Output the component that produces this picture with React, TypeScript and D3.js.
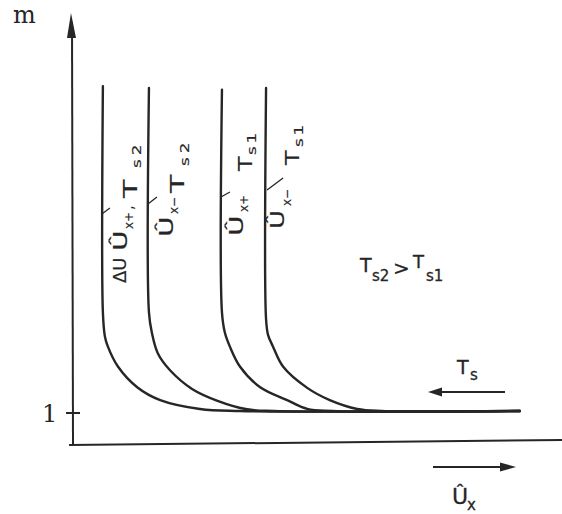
import React from "react";
import * as d3 from "d3";

// Multiplication factor m versus normalised voltage Û_x, four boundary curves
// (points are [Û_x, m])
const curveDUxPlusTs2: [number, number][] = [
  [6.1, 10.55], [6.1, 3.9], [6.5, 3.2], [7.1, 2.9], [9.2, 2.3], [13.1, 1.7],
  [17.8, 1.32], [25.9, 1.06], [34.1, 1.0], [91.2, 1.0],
];
const curveUxMinusTs2: [number, number][] = [
  [15.5, 10.5], [15.5, 3.9], [16.1, 3.3], [17.3, 2.7], [19.8, 2.2], [24.3, 1.65],
  [29.5, 1.3], [35.5, 1.05], [41, 1.0], [91.2, 1.0],
];
const curveUxPlusTs1: [number, number][] = [
  [30.4, 10.45], [30.4, 3.9], [31.0, 3.3], [32.0, 2.9], [34.1, 2.3], [38.2, 1.7],
  [43.7, 1.32], [47.8, 1.06], [53, 1.0], [91.2, 1.0],
];
const curveUxMinusTs1: [number, number][] = [
  [39.4, 10.5], [39.4, 3.7], [39.8, 3.24], [40.8, 2.9], [42.9, 2.3], [47.8, 1.68],
  [52.4, 1.32], [58.0, 1.06], [63, 1.0], [91.2, 1.0],
];

const yTicks = [1];
const yTickLabels = ["1"];

const INK = "#262626";
const FONT = "'DejaVu Sans', sans-serif";

const xScale = d3.scaleLinear().domain([0, 100]).range([73, 563]);
const yScale = d3.scaleLinear().domain([0, 12]).range([445, 37]);

const line = d3
  .line<[number, number]>()
  .x((d) => xScale(d[0]))
  .y((d) => yScale(d[1]))
  .curve(d3.curveCatmullRom.alpha(0.5));

// text rotated to read bottom-to-top; (x, y) = baseline position, start of text;
// sx stretches the glyphs along the reading direction
function RotText({ x, y, size, children, ls = 0, sx = 1 }: { x: number; y: number; size: number; children: React.ReactNode; ls?: number; sx?: number }) {
  return (
    <text
      transform={`translate(${x},${y}) rotate(-90) scale(${sx},1)`}
      fontSize={size}
      fontFamily={FONT}
      fill={INK}
      stroke={INK}
      strokeWidth={0.15}
      letterSpacing={ls}
    >
      {children}
    </text>
  );
}

function Txt({ x, y, size, children }: { x: number; y: number; size: number; children: React.ReactNode }) {
  return (
    <text x={x} y={y} fontFamily={FONT} fontSize={size} fill={INK} stroke={INK} strokeWidth={0.3}>
      {children}
    </text>
  );
}

export default function App() {
  const c1 = xScale(curveDUxPlusTs2[0][0]);
  const c2 = xScale(curveUxMinusTs2[0][0]);
  const c3 = xScale(curveUxPlusTs1[0][0]);
  const c4 = xScale(curveUxMinusTs1[0][0]);
  const y0 = yScale(0);

  return (
    <svg width={562} height={514} style={{ position: "absolute", left: 0, top: 0, background: "#fff" }}>
      {/* axes */}
      <line x1={xScale(0)} y1={y0} x2={xScale(0) - 1} y2={22} stroke={INK} strokeWidth={2} />
      <path d={`M${xScale(0) - 2},13 L${xScale(0) - 6},38 L${xScale(0) + 3},38 Z`} fill={INK} />
      <line x1={xScale(-0.8)} y1={y0} x2={xScale(100)} y2={y0 - 5} stroke={INK} strokeWidth={2} />
      <text x={13} y={23} fontFamily="'DejaVu Serif', serif" fontSize={24} fill={INK}>m</text>

      {yTicks.map((t, i) => (
        <g key={t}>
          <line x1={xScale(0) - 7} x2={xScale(0) + 7} y1={yScale(t) + 2} y2={yScale(t) + 2} stroke={INK} strokeWidth={2} />
          <text x={42} y={yScale(t) + 11} fontFamily="'DejaVu Serif', serif" fontSize={24} fill={INK}>
            {yTickLabels[i]}
          </text>
        </g>
      ))}

      {/* curves */}
      {[curveDUxPlusTs2, curveUxMinusTs2, curveUxPlusTs1, curveUxMinusTs1].map((c, i) => (
        <path key={i} d={line(c) ?? ""} fill="none" stroke={INK} strokeWidth={2.4} strokeLinecap="round" />
      ))}

      {/* curve labels */}
      <RotText x={c1 + 23} y={283} size={18} sx={1.0}>ΔU</RotText>
      <RotText x={c1 + 24} y={251} size={20} sx={1.4}>Û</RotText>
      <RotText x={c1 + 30} y={229} size={12}>x+</RotText>
      <RotText x={c1 + 30} y={210} size={15}>,</RotText>
      <RotText x={c1 + 34} y={198} size={20} sx={1.5}>T</RotText>
      <RotText x={c1 + 38} y={168} size={13} sx={1.3} ls={3}>s2</RotText>
      <line x1={c1 - 1} y1={214} x2={c1 + 7} y2={208} stroke={INK} strokeWidth={1.3} />

      <RotText x={c2 + 24} y={237} size={20} sx={1.4}>Û</RotText>
      <RotText x={c2 + 29} y={214} size={12}>x−</RotText>
      <RotText x={c2 + 35} y={193} size={20} sx={1.5}>T</RotText>
      <RotText x={c2 + 40} y={166} size={13} sx={1.3} ls={3}>s2</RotText>
      <line x1={c2 - 1} y1={204} x2={c2 + 8} y2={197} stroke={INK} strokeWidth={1.3} />

      <RotText x={c3 + 21} y={236} size={20} sx={1.4}>Û</RotText>
      <RotText x={c3 + 26} y={212} size={12}>x+</RotText>
      <RotText x={c3 + 30} y={171} size={20} sx={1.2}>T</RotText>
      <RotText x={c3 + 34} y={155} size={13} sx={1.3} ls={2}>s1</RotText>
      <line x1={c3 - 1} y1={197} x2={c3 + 8} y2={192} stroke={INK} strokeWidth={1.3} />

      <RotText x={c4 + 18} y={229} size={20} sx={1.3}>Û</RotText>
      <RotText x={c4 + 25} y={206} size={12}>x−</RotText>
      <RotText x={c4 + 33} y={165} size={20} sx={1.2}>T</RotText>
      <RotText x={c4 + 37} y={147} size={13} sx={1.3} ls={2}>s1</RotText>
      <line x1={c4 + 1} y1={190} x2={c4 + 17} y2={178} stroke={INK} strokeWidth={1.3} />

      {/* annotations */}
      <Txt x={360} y={272} size={19}>T</Txt>
      <Txt x={372} y={281} size={15}>s2</Txt>
      <Txt x={393} y={275} size={20}>&gt;</Txt>
      <Txt x={413} y={268} size={18}>T</Txt>
      <Txt x={426} y={281} size={15}>s1</Txt>

      <Txt x={457} y={374} size={19}>T</Txt>
      <Txt x={470} y={380} size={15}>s</Txt>
      <line x1={440} y1={392} x2={505} y2={392} stroke={INK} strokeWidth={2} />
      <path d="M428,392 L442,387.5 L442,396.5 Z" fill={INK} />

      <line x1={433} y1={467} x2={502} y2={467} stroke={INK} strokeWidth={2} />
      <path d="M516,467 L500,462.5 L500,471.5 Z" fill={INK} />
      <Txt x={452} y={504} size={22}>Û</Txt>
      <Txt x={467} y={510} size={15}>x</Txt>
    </svg>
  );
}
